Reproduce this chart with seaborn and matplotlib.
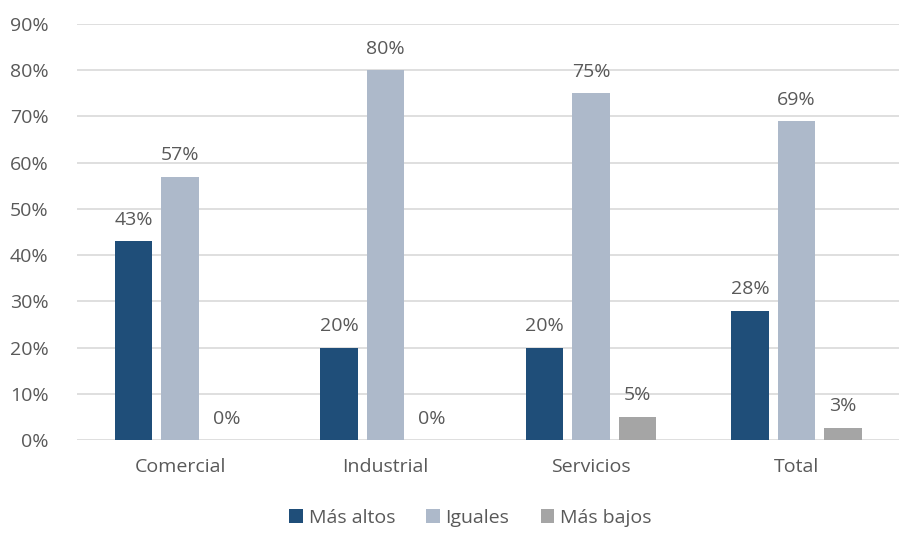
import pandas as pd
import matplotlib.pyplot as plt
import seaborn as sns

# Data
categories = ['Comercial', 'Industrial', 'Servicios', 'Total']
series = ['Más altos', 'Iguales', 'Más bajos']
mas_altos = [43, 20, 20, 28]
iguales = [57, 80, 75, 69]
mas_bajos = [0, 0, 5, 2.6]
colors = ['#1F4E79', '#ADB9CA', '#A5A5A5']

df = pd.DataFrame({
    'categoria': categories * 3,
    'serie': [series[0]] * 4 + [series[1]] * 4 + [series[2]] * 4,
    'valor': mas_altos + iguales + mas_bajos,
})

sns.set_style('white')
plt.rcParams['font.family'] = ['Open Sans', 'DejaVu Sans']
text_color = '#595959'

fig = plt.figure(figsize=(9.01, 5.34), dpi=100)
ax = fig.add_axes([0.086, 0.176, 0.912, 0.779])

sns.barplot(data=df, x='categoria', y='valor', hue='serie', palette=colors,
            saturation=1, linewidth=0, width=0.68, gap=0.19, ax=ax, legend=True)

# Value labels above each bar
for container in ax.containers:
    ax.bar_label(container, labels=[f'{v:.0f}%' for v in container.datavalues],
                 padding=9, fontsize=14, color=text_color)

ax.set_ylim(0, 90)
ax.set_xlim(-0.5, 3.5)
ax.set_yticks(range(0, 91, 10))
ax.set_yticklabels([f'{t}%' for t in range(0, 91, 10)])
ax.yaxis.grid(True, color='#D9D9D9', linewidth=1.2)
ax.set_axisbelow(True)
for s in ax.spines.values():
    s.set_visible(False)
ax.tick_params(axis='both', length=0, labelsize=14, labelcolor=text_color)
ax.tick_params(axis='x', pad=13)
ax.tick_params(axis='y', pad=21)
ax.set_xlabel('')
ax.set_ylabel('')

handles, labels = ax.get_legend_handles_labels()
ax.get_legend().remove()
fig.legend(handles, labels, loc='center', bbox_to_anchor=(0.522, 0.03), ncol=3,
           frameon=False, fontsize=14, labelcolor=text_color,
           handlelength=0.7, handleheight=0.7, handletextpad=0.3, columnspacing=1.6)

fig.savefig('out.png', dpi=100)
